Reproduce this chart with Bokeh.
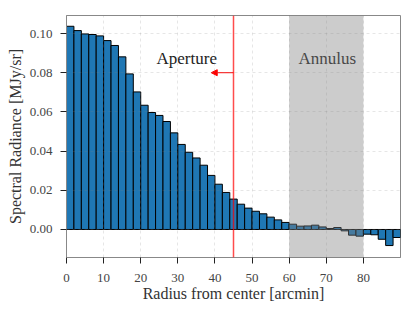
import numpy as np
from bokeh.plotting import figure
from bokeh.models import (Span, BoxAnnotation, Arrow, NormalHead, Label,
                          FixedTicker, Range1d, ColumnDataSource, PrintfTickFormatter)
from bokeh.embed import file_html
from bokeh.resources import INLINE

# ---- data ----
bin_width = 2.0
radius_left = np.arange(0, 90, 2.0)
radiance = [0.1037, 0.1015, 0.0998, 0.0995, 0.0988, 0.0964, 0.0939, 0.0881, 0.0794, 0.0702,
            0.0634, 0.0597, 0.0582, 0.0551, 0.0493, 0.0434, 0.0394, 0.0365, 0.0328, 0.0276,
            0.0231, 0.0189, 0.0155, 0.0129, 0.0109, 0.0093, 0.0080, 0.0063, 0.0049, 0.0036,
            0.0027, 0.0017, 0.0018, 0.0022, 0.0013, 0.0005, 0.0010, -0.0007, -0.0029, -0.0034,
            -0.0024, -0.0027, -0.0050, -0.0082, -0.0041]
aperture_radius = 45
annulus_inner = 60
annulus_outer = 80
arrow_end = 39
arrow_y = 0.08
label_y = 0.0875
x_ticks = [0, 10, 20, 30, 40, 50, 60, 70, 80]
y_ticks = [0.0, 0.02, 0.04, 0.06, 0.08, 0.10]

FONT = "Liberation Serif"

src = ColumnDataSource(dict(left=radius_left, right=radius_left + bin_width,
                            top=radiance, bottom=[0] * len(radiance)))

p = figure(width=407, height=304, output_backend="svg", toolbar_location=None,
           x_range=Range1d(0, 90), y_range=Range1d(-0.0143, 0.1092),
           min_border_left=66, min_border_right=7, min_border_top=15, min_border_bottom=47)

p.quad(left="left", right="right", top="top", bottom="bottom", source=src,
       fill_color="#1f77b4", line_color="black", line_width=1)

# annulus shading (drawn over bars)
p.add_layout(BoxAnnotation(left=annulus_inner, right=annulus_outer,
                           fill_color="gray", fill_alpha=0.4, line_alpha=0, level="overlay"))
# aperture line
p.add_layout(Span(location=aperture_radius, dimension="height",
                  line_color="red", line_alpha=0.7, line_width=1.5))
p.add_layout(Arrow(end=NormalHead(size=6, fill_color="red", line_color="red"),
                   x_start=aperture_radius, y_start=arrow_y, x_end=arrow_end, y_end=arrow_y,
                   line_color="red", line_width=1))
p.add_layout(Label(x=32.4, y=label_y, text="Aperture", text_align="center",
                   text_baseline="middle", text_font=FONT, text_font_size="17px",
                   text_color="#222222"))
p.add_layout(Label(x=70.3, y=label_y, text="Annulus", text_align="center",
                   text_baseline="middle", text_font=FONT, text_font_size="17px",
                   text_color="#222222"))

# axes
p.xaxis.ticker = FixedTicker(ticks=x_ticks)
p.yaxis.ticker = FixedTicker(ticks=y_ticks)
p.yaxis.formatter = PrintfTickFormatter(format="%.2f")
p.xaxis.axis_label = "Radius from center [arcmin]"
p.yaxis.axis_label = "Spectral Radiance [MJy/sr]"
for ax in (p.xaxis, p.yaxis):
    ax.axis_label_text_font = FONT
    ax.axis_label_text_font_style = "normal"
    ax.axis_label_text_font_size = "16px"
    ax.axis_label_text_color = "#333333"
    ax.major_label_text_font = FONT
    ax.major_label_text_font_size = "13px"
    ax.major_label_text_color = "#444444"
    ax.axis_line_color = "#888888"
    ax.major_tick_line_color = "#222222"
    ax.major_tick_out = 6
    ax.major_tick_in = 0
    ax.minor_tick_line_color = None
p.xaxis.major_label_standoff = 10
p.yaxis.major_label_standoff = 8
p.xaxis.axis_label_standoff = 0
p.yaxis.axis_label_standoff = 3

p.outline_line_color = "#888888"
p.outline_line_width = 1
for g in (p.xgrid, p.ygrid):
    g.grid_line_color = "gray"
    g.grid_line_alpha = 0.25
    g.grid_line_dash = "3 3"
    g.grid_line_width = 0.8
    g.level = "overlay"

open("out.html", "w").write(file_html(p, INLINE))
